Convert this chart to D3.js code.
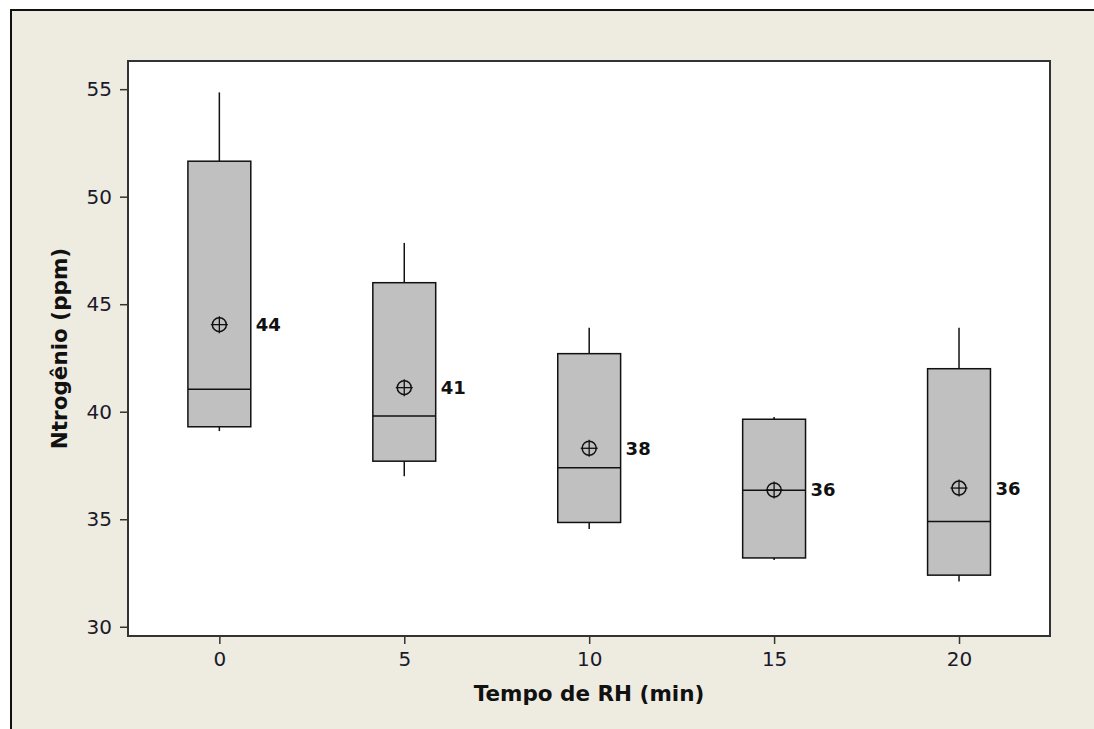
<!DOCTYPE html>
<meta charset="utf-8">
<style>
body { margin: 0; background: #fff; }
svg text { font-family: "DejaVu Sans", Verdana, sans-serif; }
.tick text { font-size: 20px; fill: #1a1a2a; }
</style>
<svg width="1094" height="729"></svg>
<script src="https://cdn.jsdelivr.net/npm/d3@7"></script>
<script>

var categories = [0, 5, 10, 15, 20];
var whiskerLow = [39.1, 37.0, 34.55, 33.1, 32.1];
var q1 = [39.3, 37.7, 34.85, 33.2, 32.4];
var median = [41.05, 39.8, 37.4, 36.35, 34.9];
var q3 = [51.65, 46.0, 42.7, 39.65, 42.0];
var whiskerHigh = [54.85, 47.85, 43.9, 39.75, 43.9];
var means = [44.05, 41.12, 38.3, 36.36, 36.45];
var meanLabels = ["44", "41", "38", "36", "36"];
var yTicks = [30, 35, 40, 45, 50, 55];

var svg = d3.select("svg");

// beige frame
svg.append("rect")
    .attr("x", 11).attr("y", 10)
    .attr("width", 1200).attr("height", 800)
    .attr("fill", "#eeebe1")
    .attr("stroke", "#111")
    .attr("stroke-width", 2);

var pLeft = 128, pRight = 1050, pTop = 61, pBottom = 636;

var x = d3.scaleLinear().domain([-2.47, 22.46]).range([pLeft, pRight]);
var y = d3.scaleLinear().domain([29.57, 56.31]).range([pBottom, pTop]);

svg.append("rect")
    .attr("x", pLeft).attr("y", pTop)
    .attr("width", pRight - pLeft).attr("height", pBottom - pTop)
    .attr("fill", "#fff");

var rows = categories.map(function(c, i) {
  return {c: c, lo: whiskerLow[i], q1: q1[i], med: median[i], q3: q3[i], hi: whiskerHigh[i], mean: means[i], label: meanLabels[i]};
});

var halfW = 0.85;
var g = svg.append("g");

// whiskers
g.selectAll(".wh").data(rows).enter().append("line")
    .attr("x1", function(d) { return x(d.c); })
    .attr("x2", function(d) { return x(d.c); })
    .attr("y1", function(d) { return y(d.q3); })
    .attr("y2", function(d) { return y(d.hi); })
    .attr("stroke", "#111").attr("stroke-width", 1.5);
g.selectAll(".wl").data(rows).enter().append("line")
    .attr("x1", function(d) { return x(d.c); })
    .attr("x2", function(d) { return x(d.c); })
    .attr("y1", function(d) { return y(d.q1); })
    .attr("y2", function(d) { return y(d.lo); })
    .attr("stroke", "#111").attr("stroke-width", 1.5);

// boxes
g.selectAll(".box").data(rows).enter().append("rect")
    .attr("x", function(d) { return x(d.c - halfW); })
    .attr("width", function(d) { return x(d.c + halfW) - x(d.c - halfW); })
    .attr("y", function(d) { return y(d.q3); })
    .attr("height", function(d) { return y(d.q1) - y(d.q3); })
    .attr("fill", "#c0c0c0")
    .attr("stroke", "#111").attr("stroke-width", 1.5);

// medians
g.selectAll(".med").data(rows).enter().append("line")
    .attr("x1", function(d) { return x(d.c - halfW); })
    .attr("x2", function(d) { return x(d.c + halfW); })
    .attr("y1", function(d) { return y(d.med); })
    .attr("y2", function(d) { return y(d.med); })
    .attr("stroke", "#111").attr("stroke-width", 1.5);

// mean symbols
var m = g.selectAll(".mean").data(rows).enter().append("g")
    .attr("transform", function(d) { return "translate(" + x(d.c) + "," + y(d.mean) + ")"; });
m.append("circle").attr("r", 7).attr("fill", "none").attr("stroke", "#111").attr("stroke-width", 1.5);
m.append("line").attr("x1", -8.5).attr("x2", 8.5).attr("stroke", "#111").attr("stroke-width", 1.3);
m.append("line").attr("y1", -8.5).attr("y2", 8.5).attr("stroke", "#111").attr("stroke-width", 1.3);

g.selectAll(".ml").data(rows).enter().append("text")
    .attr("x", function(d) { return x(d.c + halfW) + 5; })
    .attr("y", function(d) { return y(d.mean); })
    .attr("dy", "0.36em")
    .attr("font-size", 18).attr("font-weight", "bold").attr("fill", "#111")
    .text(function(d) { return d.label; });

// plot border
svg.append("rect")
    .attr("x", pLeft).attr("y", pTop)
    .attr("width", pRight - pLeft).attr("height", pBottom - pTop)
    .attr("fill", "none").attr("stroke", "#333").attr("stroke-width", 2);

// axes
var ya = svg.append("g").attr("transform", "translate(" + pLeft + ",0)")
    .call(d3.axisLeft(y).tickValues(yTicks).tickSize(8).tickPadding(8));
ya.select(".domain").remove();
ya.selectAll(".tick line").attr("stroke", "#333").attr("stroke-width", 1.5);

var xa = svg.append("g").attr("transform", "translate(0," + pBottom + ")")
    .call(d3.axisBottom(x).tickValues(categories).tickSize(8).tickPadding(8));
xa.select(".domain").remove();
xa.selectAll(".tick line").attr("stroke", "#333").attr("stroke-width", 1.5);

svg.append("text")
    .attr("x", (pLeft + pRight) / 2).attr("y", 701)
    .attr("text-anchor", "middle")
    .attr("font-size", 21.5).attr("font-weight", "bold").attr("fill", "#111")
    .text("Tempo de RH (min)");

svg.append("text")
    .attr("transform", "translate(67," + ((pTop + pBottom) / 2) + ") rotate(-90)")
    .attr("text-anchor", "middle")
    .attr("font-size", 21.5).attr("font-weight", "bold").attr("fill", "#111")
    .text("Ntrogênio (ppm)");

</script>
